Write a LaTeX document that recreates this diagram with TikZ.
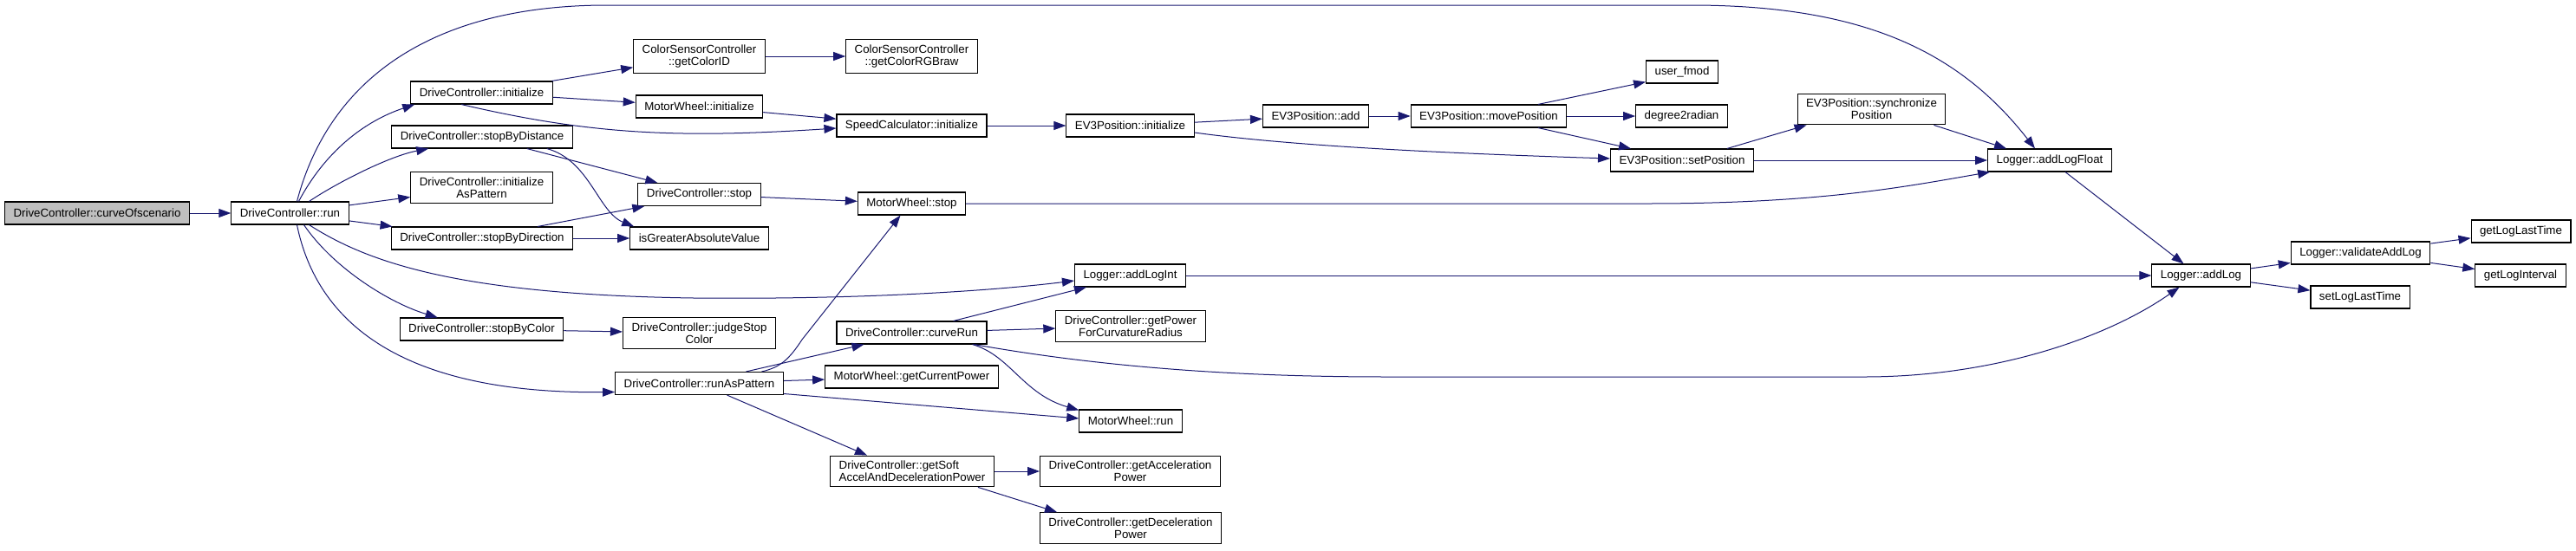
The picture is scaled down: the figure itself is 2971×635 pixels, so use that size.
\documentclass[tikz,border=0pt]{standalone}
\usepackage{fontspec}
\setmainfont{Liberation Sans}
\usetikzlibrary{arrows.meta}
\definecolor{callblue}{HTML}{191970}
\definecolor{rootgray}{HTML}{BFBFBF}
\begin{document}
\begin{tikzpicture}[x=1pt,y=-1pt,
  fnbox/.style={draw=black, fill=white, line width=1.1pt, inner xsep=10pt, inner ysep=6pt,
    minimum height=26pt, align=center, font=\fontsize{13.3}{14}\selectfont},
  rootbox/.style={fnbox, fill=rootgray},
  call/.style={draw=callblue, line width=1pt, -{Triangle[length=14pt,width=10pt]}}]
\useasboundingbox (0,0) rectangle (2971,635);
\node[rootbox] (cos) at (112,246) {DriveController::curveOfscenario};
\node[fnbox] (run) at (334.5,246) {DriveController::run};
\node[fnbox] (dcinit) at (555.5,107) {DriveController::initialize};
\node[fnbox] (stopdist) at (556,158) {DriveController::stopByDistance};
\node[fnbox] (initpat) at (555.5,216.5) {DriveController::initialize\\AsPattern};
\node[fnbox] (stopdir) at (556,275) {DriveController::stopByDirection};
\node[fnbox] (stopcol) at (555.5,380) {DriveController::stopByColor};
\node[fnbox] (getcolorid) at (806.5,65) {ColorSensorController\\::getColorID};
\node[fnbox] (mwinit) at (806.5,123) {MotorWheel::initialize};
\node[fnbox] (dcstop) at (806.5,224.5) {DriveController::stop};
\node[fnbox] (isgreater) at (806.5,275) {isGreaterAbsoluteValue};
\node[fnbox] (judgestop) at (806.5,384.5) {DriveController::judgeStop\\Color};
\node[fnbox] (runpat) at (806.5,442.5) {DriveController::runAsPattern};
\node[fnbox] (rgbraw) at (1051.5,65) {ColorSensorController\\::getColorRGBraw};
\node[fnbox] (speedinit) at (1051.5,145) {SpeedCalculator::initialize};
\node[fnbox] (mwstop) at (1051.5,235) {MotorWheel::stop};
\node[fnbox] (curverun) at (1051.5,384) {DriveController::curveRun};
\node[fnbox] (curpower) at (1051.5,435) {MotorWheel::getCurrentPower};
\node[fnbox, align=left] (getsoft) at (1052,544) {DriveController::getSoft\\AccelAndDecelerationPower};
\node[fnbox] (ev3init) at (1303.5,145) {EV3Position::initialize};
\node[fnbox] (addlogint) at (1303.5,318) {Logger::addLogInt};
\node[fnbox] (powercurv) at (1304,376.5) {DriveController::getPower\\ForCurvatureRadius};
\node[fnbox] (mwrun) at (1304,486) {MotorWheel::run};
\node[fnbox] (accpower) at (1303.5,544) {DriveController::getAcceleration\\Power};
\node[fnbox] (decpower) at (1304,609.5) {DriveController::getDeceleration\\Power};
\node[fnbox] (ev3add) at (1517.5,134) {EV3Position::add};
\node[fnbox] (movepos) at (1717,134) {EV3Position::movePosition};
\node[fnbox] (userfmod) at (1940,83) {user\_fmod};
\node[fnbox] (deg2rad) at (1939.5,134) {degree2radian};
\node[fnbox] (setpos) at (1940,185) {EV3Position::setPosition};
\node[fnbox] (syncpos) at (2158.5,126) {EV3Position::synchronize\\Position};
\node[fnbox] (addlogfloat) at (2364,185) {Logger::addLogFloat};
\node[fnbox] (addlog) at (2538.5,318) {Logger::addLog};
\node[fnbox] (validate) at (2722.5,292) {Logger::validateAddLog};
\node[fnbox] (setlast) at (2722,343) {setLogLastTime};
\node[fnbox] (getlast) at (2907.5,267) {getLogLastTime};
\node[fnbox] (getint) at (2907,318) {getLogInterval};
% calls of the root and of run
\draw[call] (cos) -- (run);
\draw[call] ([xshift=10pt]run.north) .. controls (375,175) and (420,140) .. ([xshift=5pt]dcinit.south west);
\draw[call] ([xshift=22pt]run.north) .. controls (390,210) and (450,180) .. ([xshift=43pt]stopdist.south west);
\draw[call] (run) -- (initpat);
\draw[call] (run) -- (stopdir);
\draw[call] ([xshift=22pt]run.south) .. controls (420,300) and (520,340) .. (800,344) .. controls (1000,346) and (1150,335) .. ([yshift=-6pt]addlogint.west);
\draw[call] ([xshift=16pt]run.south) .. controls (385,310) and (450,350) .. ([xshift=44pt]stopcol.north west);
\draw[call] ([xshift=8pt]run.south) .. controls (365,370) and (460,455) .. ([yshift=-10pt]runpat.west);
\draw[call] ([xshift=8pt]run.north) .. controls (380,90) and (500,6) .. (700,6) -- (1950,6) .. controls (2150,6) and (2260,60) .. ([xshift=-17pt]addlogfloat.north);
% second column
\draw[call] (dcinit) -- (getcolorid);
\draw[call] (dcinit) -- (mwinit);
\draw[call] ([xshift=59pt]dcinit.south west) .. controls (680,155) and (780,160) .. ([yshift=-3pt]speedinit.west);
\draw[call] ([xshift=-53pt]stopdist.south east) -- ([xshift=23pt]dcstop.north west);
\draw[call] ([xshift=-30pt]stopdist.south east) .. controls (680,185) and (690,245) .. ([xshift=5pt]isgreater.north west);
\draw[call] ([xshift=-41pt]stopdir.north east) -- ([xshift=8pt]dcstop.south west);
\draw[call] (stopdir) -- (isgreater);
\draw[call] (stopcol) -- (judgestop);
% third column
\draw[call] (getcolorid) -- (rgbraw);
\draw[call] (mwinit) -- (speedinit);
\draw[call] (dcstop) -- (mwstop);
\draw[call] ([xshift=72pt]runpat.north) .. controls (900,424) and (910,415) .. (925,392) -- ([xshift=-13pt]mwstop.south);
\draw[call] ([xshift=54pt]runpat.north) -- ([xshift=-55pt]curverun.south);
\draw[call] (runpat) -- (curpower);
\draw[call] ([yshift=-12pt]runpat.east) -- ([yshift=3pt]mwrun.west);
\draw[call] ([xshift=32pt]runpat.south) -- ([xshift=-52pt]getsoft.north);
% fourth column and on
\draw[call] (speedinit) -- (ev3init);
\draw[call] (mwstop.east) -- (1900,235) .. controls (2100,235) and (2200,215) .. ([xshift=3pt]addlogfloat.south west);
\draw[call] ([xshift=48pt]curverun.north) -- ([xshift=14pt]addlogint.south west);
\draw[call] (curverun) -- (powercurv);
\draw[call] ([xshift=70pt]curverun.south) .. controls (1165,410) and (1180,455) .. ([yshift=-1pt]mwrun.north west);
\draw[call] ([xshift=72pt]curverun.south) .. controls (1250,420) and (1400,435) .. (1600,435) -- (2150,435) .. controls (2300,435) and (2430,390) .. ([xshift=-25pt]addlog.south);
\draw[call] (getsoft) -- (accpower);
\draw[call] ([xshift=76pt]getsoft.south) -- ([xshift=-85pt]decpower.north);
\draw[call] (ev3init) -- (ev3add);
\draw[call] ([yshift=-8pt]ev3init.east) .. controls (1500,170) and (1700,178) .. ([yshift=2pt]setpos.west);
\draw[call] (ev3add) -- (movepos);
\draw[call] ([xshift=57pt]movepos.north) -- ([yshift=2pt]userfmod.south west);
\draw[call] (movepos) -- (deg2rad);
\draw[call] ([xshift=57pt]movepos.south) -- ([xshift=-59pt]setpos.north);
\draw[call] ([xshift=52pt]setpos.north) -- ([xshift=11pt]syncpos.south west);
\draw[call] (setpos) -- (addlogfloat);
\draw[call] ([xshift=-14pt]syncpos.south east) -- ([xshift=22pt]addlogfloat.north west);
\draw[call] ([xshift=18pt]addlogfloat.south) -- ([xshift=-20pt]addlog.north);
\draw[call] (addlogint) -- (addlog);
\draw[call] (addlog) -- (validate);
\draw[call] (addlog) -- (setlast);
\draw[call] (validate) -- (getlast);
\draw[call] (validate) -- (getint);
\end{tikzpicture}
\end{document}
